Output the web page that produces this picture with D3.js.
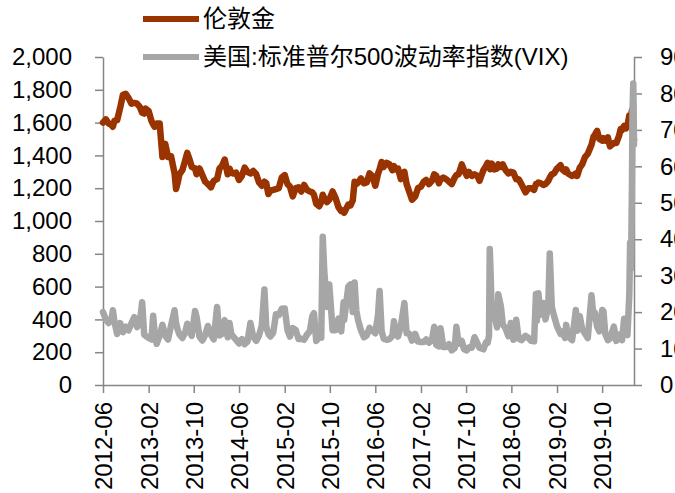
<!DOCTYPE html>
<html><head><meta charset="utf-8">
<script src="https://cdn.jsdelivr.net/npm/d3@7"></script>
<style>
body{margin:0;background:#fff;}
svg{display:block;font-family:"Liberation Sans",Arial,"Noto Sans CJK SC",sans-serif;}
</style></head><body>
<svg id="chart" width="675" height="493"></svg>
<script>
const seriesNames = ["伦敦金", "美国:标准普尔500波动率指数(VIX)"];

const dates = [
  "2012-06-01","2012-06-16","2012-07-01","2012-07-16","2012-07-24","2012-08-01","2012-08-16","2012-09-01","2012-09-16","2012-10-01","2012-10-16","2012-11-01","2012-11-16","2012-12-01","2012-12-16","2012-12-28",
  "2013-01-08","2013-01-16","2013-02-01","2013-02-16","2013-02-25","2013-03-05","2013-03-16","2013-04-01","2013-04-16","2013-05-01","2013-05-16","2013-06-01","2013-06-20","2013-06-28","2013-07-08","2013-07-16","2013-08-01","2013-08-16","2013-08-27","2013-09-10","2013-09-20","2013-10-08","2013-10-16","2013-11-01","2013-11-16","2013-12-01","2013-12-16",
  "2014-01-01","2014-01-16","2014-02-03","2014-02-16","2014-03-01","2014-03-16","2014-04-01","2014-04-11","2014-04-20","2014-05-01","2014-05-16","2014-06-01","2014-06-16","2014-07-01","2014-07-16","2014-08-01","2014-08-16","2014-09-01","2014-09-16","2014-10-01","2014-10-15","2014-10-25","2014-11-05","2014-11-16","2014-12-01","2014-12-16","2014-12-31",
  "2015-01-16","2015-02-01","2015-02-16","2015-03-01","2015-03-16","2015-04-01","2015-04-16","2015-05-01","2015-05-16","2015-06-01","2015-06-16","2015-06-29","2015-07-08","2015-07-20","2015-08-05","2015-08-16","2015-08-24","2015-09-01","2015-09-16","2015-09-28","2015-10-16","2015-11-01","2015-11-16","2015-12-01","2015-12-14","2015-12-17",
  "2016-01-08","2016-01-20","2016-02-01","2016-02-11","2016-02-20","2016-03-01","2016-03-16","2016-04-01","2016-04-16","2016-05-01","2016-05-16","2016-06-01","2016-06-16","2016-06-24","2016-07-05","2016-07-16","2016-08-01","2016-08-16","2016-09-01","2016-09-09","2016-09-16","2016-10-01","2016-10-16","2016-11-04","2016-11-16","2016-12-01","2016-12-15",
  "2017-01-01","2017-01-16","2017-02-01","2017-02-16","2017-03-01","2017-03-16","2017-04-01","2017-04-13","2017-04-24","2017-05-08","2017-05-17","2017-06-01","2017-06-16","2017-07-01","2017-07-16","2017-08-01","2017-08-10","2017-08-22","2017-09-08","2017-09-20","2017-10-05","2017-10-16","2017-11-01","2017-11-15","2017-12-01","2017-12-12",
  "2018-01-02","2018-01-16","2018-01-25","2018-02-01","2018-02-05","2018-02-08","2018-02-16","2018-03-01","2018-03-16","2018-03-23","2018-04-06","2018-04-16","2018-05-01","2018-05-16","2018-05-29","2018-06-12","2018-06-27","2018-07-10","2018-07-25","2018-08-16","2018-09-01","2018-09-16","2018-10-01","2018-10-11","2018-10-16","2018-10-24","2018-11-05","2018-11-20","2018-12-01","2018-12-16","2018-12-24",
  "2019-01-04","2019-01-16","2019-02-01","2019-02-20","2019-03-01","2019-03-16","2019-03-22","2019-04-01","2019-04-23","2019-05-13","2019-05-20","2019-06-03","2019-06-16","2019-07-01","2019-07-16","2019-08-05","2019-08-16","2019-08-23","2019-09-04","2019-09-16","2019-10-02","2019-10-08","2019-10-18","2019-11-01","2019-11-12","2019-12-03","2019-12-16","2019-12-31",
  "2020-01-08","2020-01-16","2020-01-27","2020-02-06","2020-02-14","2020-02-24","2020-02-28","2020-03-04","2020-03-09","2020-03-12","2020-03-16","2020-03-18","2020-03-20"
];

const gold = [
  1600,1620,1595,1585,1575,1610,1615,1690,1770,1776,1750,1715,1720,1715,1695,1660,
  1655,1685,1670,1610,1590,1575,1595,1595,1390,1470,1390,1395,1290,1195,1240,1285,1310,1370,1415,1370,1330,1320,1285,1320,1280,1240,1225,
  1205,1245,1255,1320,1335,1375,1285,1320,1295,1290,1295,1250,1275,1325,1300,1290,1305,1285,1235,1215,1240,1230,1165,1185,1190,1195,1200,
  1265,1280,1225,1210,1150,1200,1205,1180,1220,1190,1180,1175,1160,1105,1090,1115,1160,1140,1115,1130,1180,1140,1085,1060,1065,1050,
  1100,1095,1125,1240,1225,1235,1260,1230,1235,1290,1275,1215,1290,1315,1360,1330,1355,1345,1310,1335,1315,1320,1255,1300,1225,1175,1130,
  1150,1200,1210,1240,1250,1225,1245,1285,1275,1230,1255,1265,1255,1240,1225,1265,1280,1285,1345,1310,1275,1300,1275,1285,1275,1245,
  1310,1335,1355,1345,1335,1315,1350,1315,1320,1345,1330,1345,1310,1290,1300,1295,1255,1255,1225,1175,1200,1200,1190,1225,1225,1235,1230,1220,1225,1245,1265,
  1285,1290,1320,1340,1315,1300,1315,1290,1275,1290,1275,1325,1345,1390,1410,1465,1515,1525,1550,1500,1490,1505,1490,1510,1455,1475,1475,1520,
  1560,1555,1580,1565,1580,1645,1585,1640,1675,1570,1515,1480,1495
];

const vix = [
  20,18,17,18,20.5,17.5,14,17,14.5,16,15,17,18.6,15.9,17.4,22.7,
  13.8,13.5,12.9,12.5,19,14.5,11.3,13.6,16.5,13.5,12.5,16.3,20.5,16.9,15,13.9,12.9,14.4,16.8,14.5,13.5,20.3,18.7,13.2,12.2,13.7,16.2,
  13.8,12.5,21.4,13.6,14,17.8,13.1,17,14,13.3,12.4,11.4,12.6,11.2,11.9,17,13.2,12.1,13.6,16.3,26.2,16,14,13.3,14.3,19.4,19.2,
  20.9,21,15,13.3,15.6,15.1,12.6,12.7,12.4,13.9,14.8,18.9,19.7,12.1,13,13,40.7,31.4,21.4,27.6,15,15,18.2,14.7,22.7,17.9,
  27,27.6,20,28.1,20.5,17.7,15,13.1,13.6,15.7,15,14.2,19.4,25.8,14.8,12.7,12.4,12.6,13.5,17.5,15.4,13.3,16.1,22.5,14.2,14.1,12.2,
  14,11.9,11.8,11.8,12.5,11.6,12.4,16,11,10.6,15.6,10.4,10.4,11.2,9.5,10.1,16,11.3,12.1,9.8,9.5,10.3,10.2,13.1,11.4,10.2,
  9.8,11.7,11.6,13.5,37.3,33.5,19.5,19.6,15.8,24.9,21.5,16.6,15.5,13.4,17,12.4,17.9,12.7,12.3,13.5,12.9,12.1,12,25,17.6,25.2,19.3,22.5,18,21.6,36.1,
  21.4,19,16.1,14,14.6,12.9,16.5,13.4,12.3,20.6,14.9,18.9,15.3,14.1,12.9,24.6,18.5,19.9,16,14.7,20.6,20.3,14,12.3,12.7,16,12.1,13.8,
  13.5,12.3,18.2,15,13.7,25,39,31.9,54.5,75.5,82.7,76.5,66
];

const leftTicks = [0,200,400,600,800,1000,1200,1400,1600,1800,2000];
const rightTicks = [0,10,20,30,40,50,60,70,80,90];
const xTickLabels = ["2012-06","2013-02","2013-10","2014-06","2015-02","2015-10","2016-06","2017-02","2017-10","2018-06","2019-02","2019-10"];

const colors = {gold: "#993300", vix: "#A6A6A6", axis: "#868686"};

const L = 103, R = 634, T = 57, B = 385;
const svg = d3.select("#chart");
const parseDay = d3.timeParse("%Y-%m-%d");
const parseMonth = d3.timeParse("%Y-%m");
const pd = dates.map(parseDay);

const x = d3.scaleTime().domain(d3.extent(pd)).range([L, R]);
const yL = d3.scaleLinear().domain([0, 2000]).range([B, T]);
const yR = d3.scaleLinear().domain([0, 90]).range([B, T]);

function styleAxis(g) {
  g.select(".domain").attr("stroke", colors.axis).attr("stroke-width", 1.5);
  g.selectAll(".tick line").attr("stroke", colors.axis).attr("stroke-width", 1.5);
  g.selectAll(".tick text").attr("fill", "#000").style("font-size", "24px")
    .style("font-family", '"Liberation Sans", Arial, sans-serif');
}

// left axis
svg.append("g").attr("transform", `translate(${L},0)`)
  .call(d3.axisLeft(yL).tickValues(leftTicks).tickFormat(d3.format(",")).tickSize(8).tickSizeOuter(0).tickPadding(23))
  .call(styleAxis);

// right axis
svg.append("g").attr("transform", `translate(${R},0)`)
  .call(d3.axisRight(yR).tickValues(rightTicks).tickSize(8).tickSizeOuter(0).tickPadding(18))
  .call(styleAxis);

// x axis
const xg = svg.append("g").attr("transform", `translate(0,${B})`)
  .call(d3.axisBottom(x).tickValues(xTickLabels.map(parseMonth)).tickFormat(d3.timeFormat("%Y-%m")).tickSize(8).tickSizeOuter(0))
  .call(styleAxis);
xg.selectAll(".tick text")
  .attr("transform", "rotate(-90)")
  .attr("text-anchor", "end")
  .attr("x", -17).attr("y", 0).attr("dy", "0.35em");

// lines
const n = Math.min(pd.length, gold.length, vix.length);
const idx = d3.range(n);
const goldLine = d3.line().x(i => x(pd[i])).y(i => yL(gold[i])).curve(d3.curveLinear);
const vixLine = d3.line().x(i => x(pd[i])).y(i => yR(vix[i])).curve(d3.curveLinear);

svg.append("path").datum(idx).attr("d", goldLine)
  .attr("fill", "none").attr("stroke", colors.gold).attr("stroke-width", 6.5)
  .attr("stroke-linejoin", "round").attr("stroke-linecap", "round");
svg.append("path").datum(idx).attr("d", vixLine)
  .attr("fill", "none").attr("stroke", colors.vix).attr("stroke-width", 6.5)
  .attr("stroke-linejoin", "round").attr("stroke-linecap", "round");

// legend
const legend = [
  {name: seriesNames[0], color: colors.gold, y: 19},
  {name: seriesNames[1], color: colors.vix, y: 57}
];
const lg = svg.append("g");
legend.forEach(d => {
  lg.append("line").attr("x1", 143).attr("x2", 199).attr("y1", d.y).attr("y2", d.y)
    .attr("stroke", d.color).attr("stroke-width", 6);
  lg.append("text").attr("x", 203).attr("y", d.y).attr("dy", "0.35em")
    .style("font-size", "24px").attr("fill", "#000").text(d.name);
});
</script>
</body></html>
